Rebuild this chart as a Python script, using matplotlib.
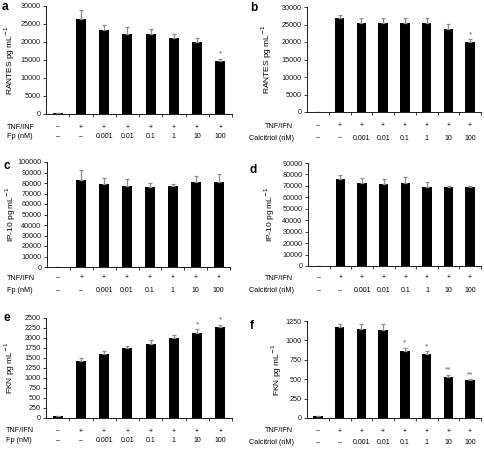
import numpy as np
import matplotlib
matplotlib.use("Agg")
import matplotlib.pyplot as plt
from matplotlib.transforms import blended_transform_factory

plt.rcParams['font.family'] = ['Liberation Sans', 'DejaVu Sans']

# row labels under each panel
tnf_row = ["–", "+", "+", "+", "+", "+", "+", "+"]
dose_row = ["–", "–", "0.001", "0.01", "0.1", "1", "10", "100"]

# panel data: means, upper error, significance marks
rantes_fp = [300, 26300, 23300, 22200, 22200, 21000, 19900, 14800]
rantes_fp_err = [0, 2500, 1400, 1900, 1400, 1200, 1200, 500]
rantes_fp_sig = ["", "", "", "", "", "", "", "*"]

rantes_cal = [100, 26900, 25300, 25300, 25300, 25300, 23700, 20100]
rantes_cal_err = [0, 700, 1600, 1600, 1600, 1600, 1400, 700]
rantes_cal_sig = ["", "", "", "", "", "", "", "*"]

ip10_fp = [0, 82800, 78900, 77200, 76500, 77400, 81200, 81200]
ip10_fp_err = [0, 9700, 5800, 6900, 3400, 1300, 5700, 7500]

ip10_cal = [0, 75600, 72800, 71400, 72200, 68700, 68600, 68600]
ip10_cal_err = [0, 4000, 3700, 4800, 5500, 4300, 1600, 1600]

fkn_fp = [40, 1425, 1600, 1755, 1860, 2000, 2135, 2265]
fkn_fp_err = [0, 70, 65, 55, 85, 65, 90, 65]
fkn_fp_sig = ["", "", "", "", "", "", "*", "*"]

fkn_cal = [22, 1173, 1143, 1128, 862, 828, 522, 488]
fkn_cal_err = [10, 36, 68, 85, 45, 30, 35, 15]
fkn_cal_sig = ["", "", "", "", "*", "*", "**", "**"]

W, H = 484, 449
fig = plt.figure(figsize=(W / 100, H / 100), dpi=100)


def panel(box, vals, errs, sig, ymax, ystep, ylab, letter, row1, row2,
          row_y, title_x, ylab_x, letter_xy):
    l, r, t, b = box
    ax = fig.add_axes([l / W, 1 - b / H, (r - l) / W, (b - t) / H])
    x = np.arange(len(vals))
    ax.bar(x, vals, width=0.44, color='black')
    lower = np.zeros(len(vals))
    eb = ax.errorbar(x, vals, yerr=[lower, errs], fmt='none', ecolor='0.55',
                     elinewidth=0.9, capsize=1.3, capthick=0.9)
    for c in eb[1]:
        c.set_color('0.25')
    for xi, v, e, s in zip(x, vals, errs, sig):
        if s:
            ax.text(xi, v + e + ymax * 0.01, s, ha='center', va='bottom',
                    fontsize=6, color='0.4')
    ax.set_xlim(-0.5, len(vals) - 0.5)
    ax.set_ylim(0, ymax)
    ax.set_yticks(np.arange(0, ymax + 1, ystep))
    ax.set_xticks(np.arange(0.5, len(vals), 1.0))
    ax.set_xticklabels([])
    ax.tick_params(axis='both', direction='out', length=2.5, width=0.6,
                   labelsize=5.2, pad=1.5, colors='0.1')
    for s in ('top', 'right'):
        ax.spines[s].set_visible(False)
    for s in ('left', 'bottom'):
        ax.spines[s].set_linewidth(0.7)
        ax.spines[s].set_color('0.1')

    tr = blended_transform_factory(ax.transData, fig.transFigure)
    for xi, a1, a2 in zip(x, row1, row2):
        ax.text(xi, 1 - row_y[0] / H, a1, transform=tr, ha='center',
                va='center', fontsize=5, clip_on=False)
        ax.text(xi, 1 - row_y[1] / H, a2, transform=tr, ha='center',
                va='center', fontsize=5, clip_on=False)
    fig.text(title_x[0] / W, 1 - row_y[0] / H, row_labels[letter][0],
             ha='left', va='center', fontsize=5.2)
    fig.text(title_x[1] / W, 1 - row_y[1] / H, row_labels[letter][1],
             ha='left', va='center', fontsize=5.2)
    fig.text(ylab_x / W, 1 - (t + b) / 2 / H, ylab, rotation=90,
             ha='center', va='center', fontsize=6.0)
    fig.text(letter_xy[0] / W, 1 - letter_xy[1] / H, letter,
             ha='left', va='center', fontsize=8.5, fontweight='bold')
    return ax


row_labels = {
    'a': ("TNF/INF", "Fp (nM)"),
    'b': ("TNF/IFN", "Calcitriol (nM)"),
    'c': ("TNF/IFN", "Fp (nM)"),
    'd': ("TNF/IFN", "Calcitriol (nM)"),
    'e': ("TNF/IFN", "Fp (nM)"),
    'f': ("TNF/IFN", "Calcitriol (nM)"),
}
nosig = [""] * 8

panel((46, 232, 6, 114), rantes_fp, rantes_fp_err, rantes_fp_sig, 30000, 5000,
      "RANTES pg mL$^{-1}$", 'a', tnf_row, dose_row, (127, 137), (7, 7), 10, (2, 7))
panel((307, 481, 7, 112), rantes_cal, rantes_cal_err, rantes_cal_sig, 30000, 5000,
      "RANTES pg mL$^{-1}$", 'b', tnf_row, dose_row, (126, 138), (265, 249), 267, (250, 8))
panel((47, 230, 162, 267), ip10_fp, ip10_fp_err, nosig, 100000, 10000,
      "IP-10 pg mL$^{-1}$", 'c', tnf_row, dose_row, (278, 291), (7, 7), 11, (3, 166))
panel((308, 481, 163, 266), ip10_cal, ip10_cal_err, nosig, 90000, 10000,
      "IP-10 pg mL$^{-1}$", 'd', tnf_row, dose_row, (278, 291), (265, 249), 270, (249, 170))
panel((46, 232, 318, 418), fkn_fp, fkn_fp_err, fkn_fp_sig, 2500, 250,
      "FKN pg mL$^{-1}$", 'e', tnf_row, dose_row, (431, 441), (6, 6), 10, (3, 318))
panel((307, 481, 321, 418), fkn_cal, fkn_cal_err, fkn_cal_sig, 1250, 250,
      "FKN pg mL$^{-1}$", 'f', tnf_row, dose_row, (431, 443), (265, 249), 277, (250, 326))

fig.savefig("out.png", dpi=100)
